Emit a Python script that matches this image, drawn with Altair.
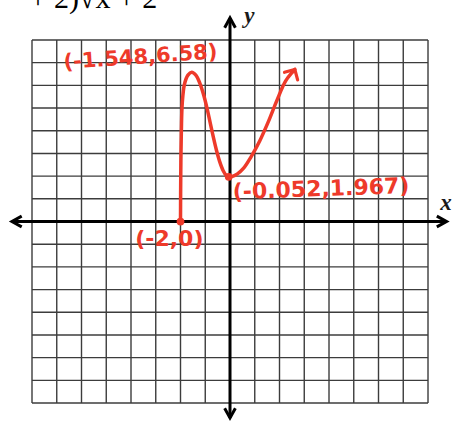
import altair as alt
import pandas as pd

# Scale domains: 16x16 unit grid, one unit per cell
X_DOMAIN = [-9.293, 9.131]
Y_DOMAIN = [-8.836, 9.762]

# Grid lines
grid_ticks = list(range(-8, 9))
GRID_MIN, GRID_MAX = -8, 8

# Axis extents (arrow tips)
x_axis_ends = [-8.81, 8.75]
y_axis_ends = [-8.66, 8.97]

# Sketched curve, traced in order from the endpoint to the arrow
curve_x = [-2.0, -1.995, -1.985, -1.965, -1.93, -1.84, -1.70, -1.548, -1.38, -1.22, -1.07,
           -0.93, -0.80, -0.68, -0.55, -0.42, -0.28, -0.15, -0.052, 0.10, 0.30, 0.55,
           0.85, 1.20, 1.55, 1.90, 2.25, 2.62]
curve_y = [0.0, 1.2, 2.6, 4.0, 5.2, 6.05, 6.45, 6.58, 6.45, 6.10, 5.60,
           5.00, 4.35, 3.75, 3.15, 2.65, 2.25, 2.03, 1.967, 1.99, 2.10, 2.35,
           2.85, 3.55, 4.40, 5.35, 6.20, 6.70]

# Marked points
point_x = [-2.0, -0.052]
point_y = [0.0, 1.967]

# Annotations
label_text = ["(-1.548,6.58)", "(-0.052,1.967)", "(-2,0)"]
label_x = [-3.62, 3.68, -2.45]
label_y = [7.22, 1.43, -0.76]
label_angle = [356, 358, 0]
label_size = [21, 22, 22]

RED = "#ee3a2a"

xs = alt.Scale(domain=X_DOMAIN, nice=False, zero=False)
ys = alt.Scale(domain=Y_DOMAIN, nice=False, zero=False)


def X(field, **kw):
    return alt.X(field, type="quantitative", scale=xs, axis=None, **kw)


def Y(field, **kw):
    return alt.Y(field, type="quantitative", scale=ys, axis=None, **kw)


# grid
vgrid = pd.DataFrame({"x": grid_ticks, "y": GRID_MIN, "y2": GRID_MAX})
hgrid = pd.DataFrame({"y": grid_ticks, "x": GRID_MIN, "x2": GRID_MAX})
grid_v = alt.Chart(vgrid).mark_rule(color="#3c3c3c", strokeWidth=1.4).encode(
    x=X("x"), y=Y("y"), y2="y2")
grid_h = alt.Chart(hgrid).mark_rule(color="#3c3c3c", strokeWidth=1.4).encode(
    y=Y("y"), x=X("x"), x2="x2")

# main axes
axes_df = pd.DataFrame({
    "x": [x_axis_ends[0], 0], "x2": [x_axis_ends[1], 0],
    "y": [0, y_axis_ends[0]], "y2": [0, y_axis_ends[1]],
})
axes = alt.Chart(axes_df).mark_rule(color="black", strokeWidth=3).encode(
    x=X("x"), x2="x2", y=Y("y"), y2="y2")

chevron = "M -0.55 1 L 0 0 L 0.55 1"
arrows_df = pd.DataFrame({
    "x": [x_axis_ends[0], x_axis_ends[1], 0, 0],
    "y": [0, 0, y_axis_ends[1], y_axis_ends[0]],
    "a": [270, 90, 0, 180],
})
axis_arrows = alt.Chart(arrows_df).mark_point(
    shape=chevron, filled=False, color="black", strokeWidth=3, size=380, opacity=1,
    strokeJoin="miter").encode(x=X("x"), y=Y("y"), angle=alt.Angle("a:Q", scale=None))

# axis names
names_df = pd.DataFrame({"t": ["x", "y"], "x": [8.73, 0.78], "y": [0.80, 9.07]})
names = alt.Chart(names_df).mark_text(
    font="Liberation Serif", fontStyle="italic", fontWeight="bold", fontSize=23,
    color="#1a1a1a").encode(x=X("x"), y=Y("y"), text="t:N")

# header formula, running off the top edge
head_df = pd.DataFrame({"t": ["+ 2)\u221ax + 2"], "x": [-8.1], "y": [9.43]})
head = alt.Chart(head_df).mark_text(
    font="Liberation Serif", fontSize=30, align="left", baseline="alphabetic",
    color="black").encode(x=X("x"), y=Y("y"), text="t:N")

# curve
curve_df = pd.DataFrame({"x": curve_x, "y": curve_y, "i": range(len(curve_x))})
curve = alt.Chart(curve_df).mark_line(
    color=RED, strokeWidth=3.5, interpolate="catmull-rom", strokeCap="round").encode(
    x=X("x"), y=Y("y"), order="i:Q")

tip_df = pd.DataFrame({"x": [curve_x[-1]], "y": [curve_y[-1]], "a": [30]})
tip = alt.Chart(tip_df).mark_point(
    shape="M -1 1 L 0 0 L 1 1", filled=False, color=RED, strokeWidth=3.2, size=230,
    opacity=1, strokeCap="round").encode(
    x=X("x"), y=Y("y"), angle=alt.Angle("a:Q", scale=None))

pts_df = pd.DataFrame({"x": point_x, "y": point_y})
pts = alt.Chart(pts_df).mark_circle(color=RED, size=60, opacity=1).encode(
    x=X("x"), y=Y("y"))

lab_df = pd.DataFrame({"t": label_text, "x": label_x, "y": label_y,
                       "a": label_angle, "s": label_size})
labels = alt.Chart(lab_df).mark_text(
    font="DejaVu Sans", fontWeight="bold", color=RED, align="center",
    baseline="middle").encode(
    x=X("x"), y=Y("y"), text="t:N",
    angle=alt.Angle("a:Q", scale=None), size=alt.Size("s:Q", scale=None))

chart = alt.layer(
    grid_v, grid_h, axes, axis_arrows, names, head, curve, tip, pts, labels
).properties(
    width=456, height=422, padding=0,
    autosize=alt.AutoSizeParams(type="none"),
    background="white",
).configure_view(stroke=None)

chart.save("out.html", embed_options={"renderer": "svg", "actions": False})
